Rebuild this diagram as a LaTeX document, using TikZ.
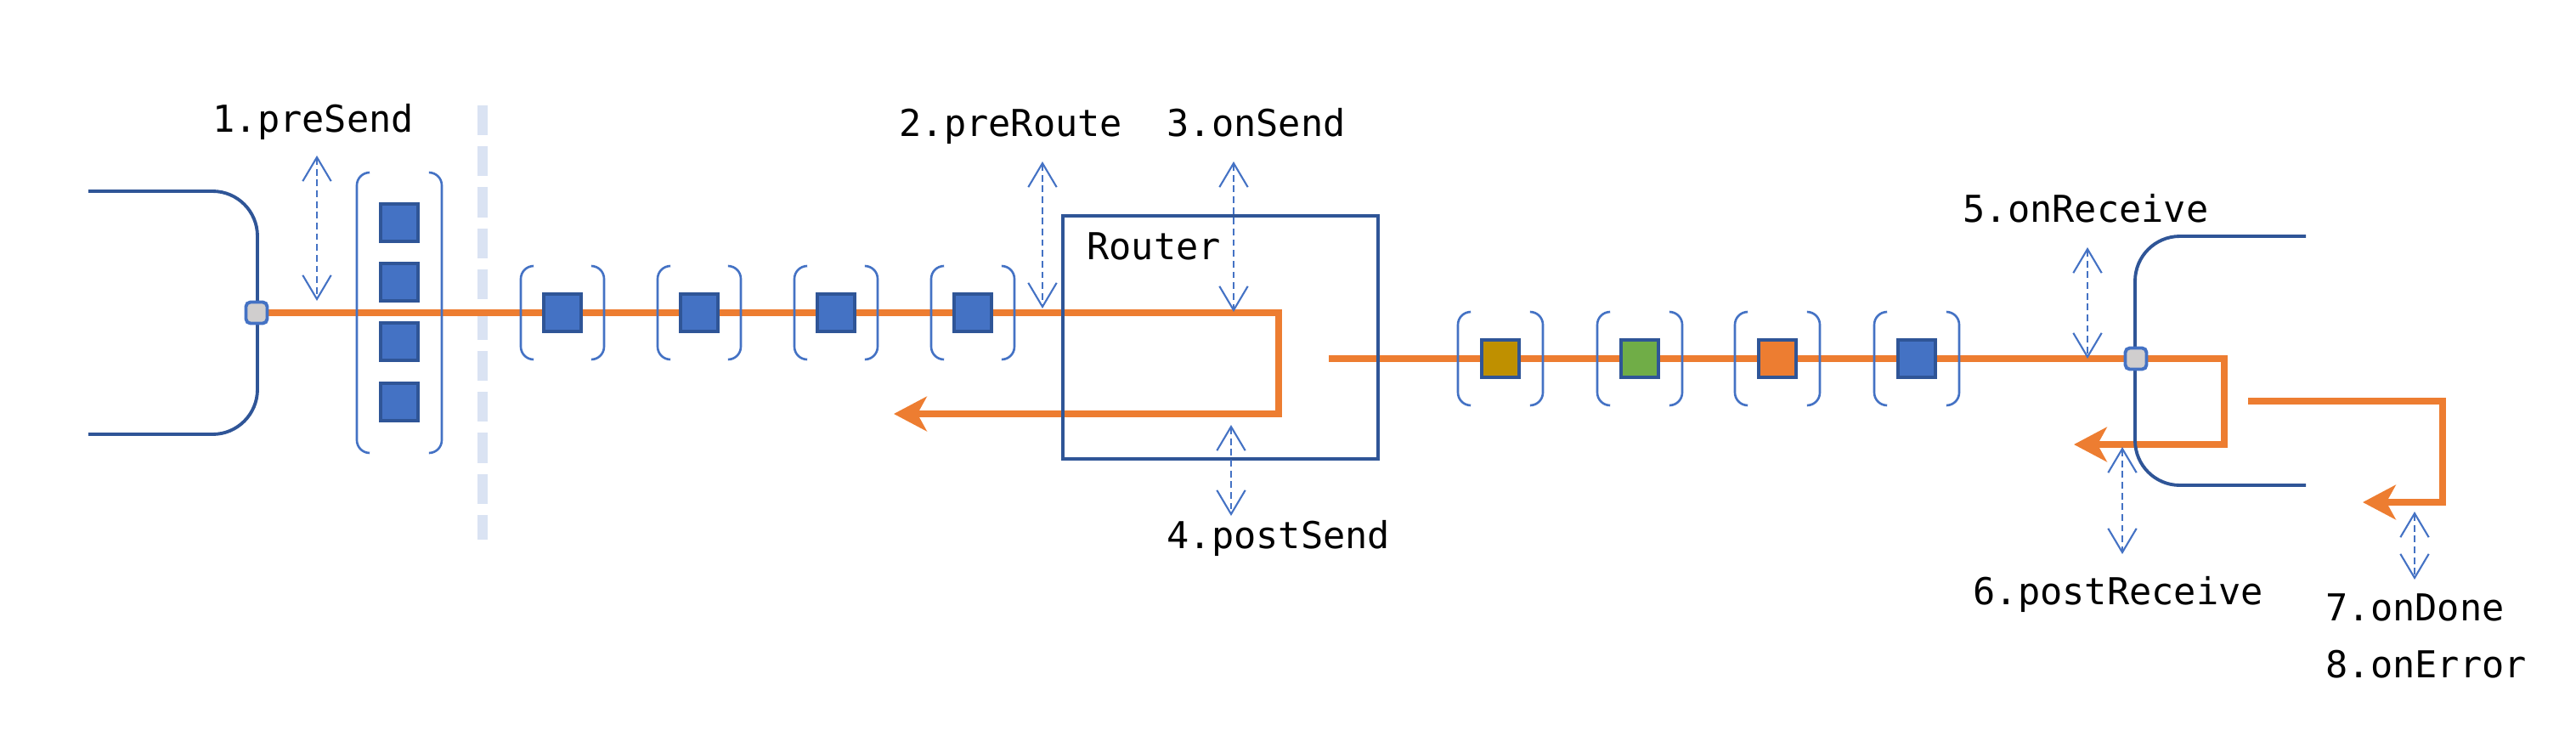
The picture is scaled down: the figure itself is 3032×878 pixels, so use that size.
\documentclass[tikz,border=0pt]{standalone}
\usepackage{fontspec}
\setmonofont{DejaVu Sans Mono}
\usetikzlibrary{arrows.meta,positioning,backgrounds}

\definecolor{hostblue}{HTML}{2F5597}
\definecolor{lineblue}{HTML}{4472C4}
\definecolor{flowOrange}{HTML}{ED7D31}
\definecolor{sepblue}{HTML}{DAE3F3}
\definecolor{portgrey}{HTML}{D0CECE}
\definecolor{msggold}{HTML}{BF9000}
\definecolor{msggreen}{HTML}{70AD47}

\tikzset{
  lbl/.style={font=\ttfamily\fontsize{12.4}{15}\selectfont, inner sep=0pt, anchor=base west},
  msg/.style={draw=hostblue, line width=1.2pt, fill=#1, minimum size=0.44cm, inner sep=0pt},
  msg/.default=lineblue,
  port/.style={draw=lineblue, line width=1.1pt, fill=portgrey, rounded corners=1.5pt, minimum size=0.25cm, inner sep=0pt},
  host/.style={draw=hostblue, line width=1.1pt, rounded corners=15pt},
  paren/.style={draw=lineblue, line width=0.75pt, rounded corners=4.3pt},
  hook/.style={draw=lineblue, line width=0.6pt, dash pattern=on 2.2pt off 1.4pt,
    {Straight Barb[length=8pt,width=9.5pt]}-{Straight Barb[length=8pt,width=9.5pt]}},
  flowarrow/.style={draw=flowOrange, line width=2.4pt, -{Stealth[length=11pt,width=11.5pt,inset=3.1pt]}},
}

% parentheses round a node: name, half width, half height
\newcommand\parens[3]{%
  \draw[paren] ([shift={(-#2+15,-#3)}]#1.center) -- ([shift={(-#2,-#3)}]#1.center)
    -- ([shift={(-#2,#3)}]#1.center) -- ([shift={(-#2+15,#3)}]#1.center);
  \draw[paren] ([shift={(#2-15,-#3)}]#1.center) -- ([shift={(#2,-#3)}]#1.center)
    -- ([shift={(#2,#3)}]#1.center) -- ([shift={(#2-15,#3)}]#1.center);}

\begin{document}
\begin{tikzpicture}[x=0.01cm,y=-0.01cm]
\useasboundingbox (0,0) rectangle (3032,878);

% sender and receiver
\draw[host] (104,225) -- (303,225) -- (303,511) -- (104,511);
\draw[host] (2714,278) -- (2513,278) -- (2513,571) -- (2714,571);
\node[port] (sport) at (302,368) {};
\node[port] (rport) at (2514,422) {};

% batch
\coordinate (batch) at (470,368);
\foreach \i/\y in {1/262,2/332,3/402,4/473}
  \node[msg] (b\i) at (470,\y) {};
\parens{batch}{50}{165}

% channel
\foreach \i/\x in {1/662,2/823,3/984,4/1145} {
  \node[msg] (m\i) at (\x,368) {};
  \parens{m\i}{49}{55}
}

% router
\node[draw=hostblue, line width=1.2pt, minimum width=3.71cm, minimum height=2.86cm] (router) at (1436.5,397) {};
\node[lbl] (rname) at ([shift={(30,54)}]router.north west) {Router};

% delivery
\foreach \i/\x/\c in {1/1766/msggold,2/1930/msggreen,3/2092/flowOrange,4/2256/lineblue} {
  \node[msg=\c] (o\i) at (\x,422) {};
  \parens{o\i}{50}{55}
}

% interceptor labels
\node[lbl] (l1) at (250,155) {1.preSend};
\node[lbl] (l2) at (1058,160) {2.preRoute};
\node[lbl] (l3) at (1373,160) {3.onSend};
\node[lbl] (l4) at (1373,645) {4.postSend};
\node[lbl] (l5) at (2310,261) {5.onReceive};
\node[lbl] (l6) at (2322,711) {6.postReceive};
\node[lbl] (l7) at (2737,730) {7.onDone};
\node[lbl] (l8) at (2737,797) {8.onError};

\foreach \n/\x/\ya/\yb in {h1/373/183/354, h2/1227/190/363, h3/1452/190/367, h4/1449/500/607,
    h5/2457/291/422, h6/2498/526/652, h7/2842/602/682} {
  \coordinate (\n a) at (\x,\ya);
  \coordinate (\n b) at (\x,\yb);
  \draw[hook] (\n a) -- (\n b);
}

% flow
\coordinate (sendLoop) at (1505,487);
\coordinate (sendBack) at (1052,487);
\coordinate (routeOut) at (1564,422);
\coordinate (recvLoop) at (2618,523);
\coordinate (recvBack) at (2441,523);
\coordinate (doneStart) at (2646,472);
\coordinate (doneLoop) at (2875,591);
\coordinate (doneBack) at (2781,591);
\begin{scope}[on background layer]
\draw[sepblue, line width=3.4pt, dash pattern=on 10pt off 3.7pt] (568,124) -- (568,635);
\draw[flowarrow] (sport.center) -| (sendLoop) -- (sendBack);
\draw[flowarrow] (routeOut) -| (recvLoop) -- (recvBack);
\draw[flowarrow] (doneStart) -| (doneLoop) -- (doneBack);
\end{scope}
\end{tikzpicture}
\end{document}
